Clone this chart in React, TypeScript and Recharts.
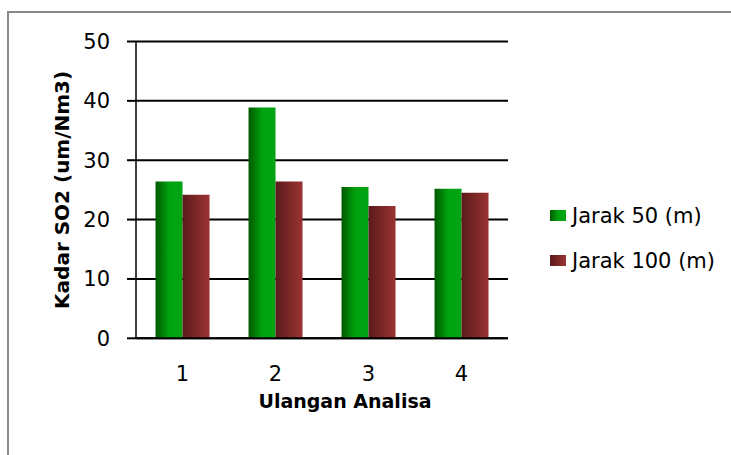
import React from "react";
import { BarChart, Bar, XAxis, YAxis, CartesianGrid, Legend } from "recharts";

const categories = ["1", "2", "3", "4"];
const jarak50 = [26.4, 38.9, 25.5, 25.2];
const jarak100 = [24.2, 26.4, 22.3, 24.5];
const yTicks = [0, 10, 20, 30, 40, 50];

const SERIES = [
  { key: "j50", name: "Jarak 50 (m)", fill: "url(#gGreen)" },
  { key: "j100", name: "Jarak 100 (m)", fill: "url(#gRed)" },
];

const FONT = "'DejaVu Sans', sans-serif";

const data = categories.map((c, i) => ({ name: c, j50: jarak50[i], j100: jarak100[i] }));

function LegendBox() {
  return (
    <div style={{ fontFamily: FONT, fontSize: 21, color: "#000" }}>
      {SERIES.map((s, i) => (
        <div key={s.key} style={{ display: "flex", alignItems: "center", height: 45 }}>
          <svg width={16} height={11} style={{ marginRight: 6 }}>
            <rect width={16} height={11} fill={i === 0 ? "url(#gGreen)" : "url(#gRed)"} />
          </svg>
          <span>{s.name}</span>
        </div>
      ))}
    </div>
  );
}

export default function App() {
  return (
    <div style={{ position: "fixed", left: 0, top: 0, width: 731, height: 455, overflow: "hidden", background: "#fff" }}>
      <div
        style={{
          position: "absolute",
          left: 7,
          top: 11,
          width: 800,
          height: 600,
          border: "2px solid #8a8a8a",
        }}
      />
      <svg width={0} height={0} style={{ position: "absolute" }}>
        <defs>
          <linearGradient id="gGreen" x1="0" y1="0" x2="1" y2="0">
            <stop offset="0%" stopColor="#005800" />
            <stop offset="50%" stopColor="#00a20e" />
            <stop offset="100%" stopColor="#00a414" />
          </linearGradient>
          <linearGradient id="gRed" x1="0" y1="0" x2="1" y2="0">
            <stop offset="0%" stopColor="#5a1a1a" />
            <stop offset="100%" stopColor="#9c3333" />
          </linearGradient>
        </defs>
      </svg>
      <div style={{ position: "absolute", left: 0, top: 0 }}>
        <BarChart
          width={731}
          height={455}
          data={data}
          margin={{ top: 41.5, right: 223, bottom: 56.7, left: 0 }}
          barCategoryGap="21%"
          barGap={0}
        >
          <CartesianGrid vertical={false} stroke="#000" strokeWidth={2} />
          <XAxis
            dataKey="name"
            height={60}
            axisLine={{ stroke: "#000", strokeWidth: 2 }}
            tickLine={false}
            tickSize={0}
            tickMargin={28}
            tick={{ fill: "#000", fontSize: 21, fontFamily: FONT }}
            label={{
              value: "Ulangan Analisa",
              position: "center",
              dx: 23,
              dy: 33,
              fill: "#000",
              fontSize: 19,
              fontWeight: "bold",
              fontFamily: FONT,
            }}
          />
          <YAxis
            width={136}
            domain={[0, 50]}
            ticks={yTicks}
            axisLine={{ stroke: "#000", strokeWidth: 1.5 }}
            tickLine={{ stroke: "#000", strokeWidth: 2 }}
            tickSize={9}
            tickMargin={17}
            tick={{ fill: "#000", fontSize: 21, fontFamily: FONT }}
            label={{
              value: "Kadar SO2 (um/Nm3)",
              angle: -90,
              position: "center",
              dx: -6,
              fill: "#000",
              fontSize: 20,
              fontWeight: "bold",
              fontFamily: FONT,
            }}
          />
          <Legend
            layout="horizontal"
            align="center"
            verticalAlign="middle"
            wrapperStyle={{ left: 550, top: 193, width: 180 }}
            content={() => <LegendBox />}
          />
          {SERIES.map((s) => (
            <Bar key={s.key} dataKey={s.key} name={s.name} fill={s.fill} isAnimationActive={false} />
          ))}
        </BarChart>
      </div>
    </div>
  );
}
